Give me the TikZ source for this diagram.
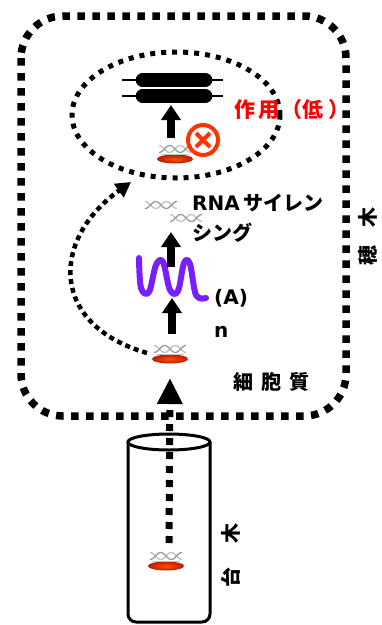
\documentclass[tikz,border=0pt]{standalone}
\usepackage{fontspec}
\setmainfont{Noto Sans CJK JP}
\newfontfamily\latinbold{DejaVu Sans}
\usetikzlibrary{arrows.meta,calc}

\definecolor{xred}{RGB}{255,51,0}
\definecolor{labelred}{RGB}{255,0,0}
\definecolor{mrnaviolet}{RGB}{120,30,255}
\definecolor{discin}{RGB}{255,80,0}
\definecolor{discout}{RGB}{185,28,0}

\tikzset{
  outerdots/.style={line width=7.5pt, dash pattern=on 7.5pt off 7.5pt},
  ringdots/.style={line width=5pt, dash pattern=on 5pt off 6pt},
  pathdots/.style={line width=4.5pt, dash pattern=on 5pt off 4pt},
  feeddots/.style={line width=7pt, dash pattern=on 7pt off 7pt},
  blockarrow/.style={line width=8pt, -{Triangle[width=19pt,length=15pt]}},
  lbl/.style={inner sep=0pt, font=\bfseries\fontsize{20}{30}\selectfont},
  helix/.pic={
    \draw[gray!45, line width=1.5pt] plot[domain=-16:16, samples=41, smooth] (\x,{-3.5*sin(17*\x)});
    \draw[gray!80, line width=1.3pt] plot[domain=-16:16, samples=41, smooth] (\x,{3.5*sin(17*\x)});
  },
  dnadisc/.pic={
    \pic at (0,-10) {helix};
    \shade[inner color=discin, outer color=discout] (0,0) ellipse [x radius=18pt, y radius=4.5pt];
    \draw[gray!45, line width=0.5pt] (-14,-4.5) -- (14,-4.5);
  },
}

\begin{document}
\begin{tikzpicture}[x=1pt, y=-1pt]
\useasboundingbox (0,0) rectangle (382,625);
\fill[white] (0,0) rectangle (382,625);

% cytoplasm compartment
\draw[outerdots, rounded corners=42pt] (21,16) rectangle (346,416);

% region where the siRNA acts
\draw[ringdots] (176,115) ellipse [x radius=104pt, y radius=63pt];

% rootstock stem
\draw[line width=3pt, rounded corners=8pt] (128,442) -- (128,622) -- (210,622) -- (210,442);
\draw[line width=3pt] (169,442) ellipse [x radius=41pt, y radius=8pt];

% DNA/disc glyphs
\coordinate (dnaTop) at (175,159);
\coordinate (dnaCyto) at (170,359);
\coordinate (dnaStock) at (166,566);
\pic at (dnaTop) {dnadisc};
\pic at (dnaCyto) {dnadisc};
\pic at (dnaStock) {dnadisc};

% siRNA duplexes
\coordinate (sirnaA) at (161,205);
\coordinate (sirnaB) at (186,218);
\pic at (sirnaA) {helix};
\pic at (sirnaB) {helix};

% target molecule (two bars)
\coordinate (bars) at (172,88);
\foreach \yy in {80,96} {
  \draw[line width=2.5pt] (122,\yy) -- (223,\yy);
  \draw[line width=13.5pt, line cap=round] (142.5,\yy) -- (205.5,\yy);
}

% poly-A transcript
\coordinate (mrna) at (172,278);
\draw[mrnaviolet, line width=6pt, line cap=round, line join=round]
  plot[smooth, tension=0.6] coordinates {(139,258) (141,288) (149,292) (156,265) (163,262) (170,290) (178,291) (184,263) (190,264) (196,295) (206,298)};

% inhibition mark
\coordinate (block) at (203,140);
\draw[xred, line width=4pt] (block) circle [radius=15pt];
\draw[xred, line width=4pt] ($(block)+(-7,-7)$) -- ($(block)+(7,7)$);
\draw[xred, line width=4pt] ($(block)+(7,-7)$) -- ($(block)+(-7,7)$);

% solid arrows
\coordinate (a1s) at (171,138); \coordinate (a1e) at (171,105);
\coordinate (a2s) at (171,267); \coordinate (a2e) at (171,232);
\coordinate (a3s) at (172,334); \coordinate (a3e) at (172,298);
\draw[blockarrow] (a1s) -- (a1e);
\draw[blockarrow] (a2s) -- (a2e);
\draw[blockarrow] (a3s) -- (a3e);

% transport from rootstock into scion
\coordinate (feedStart) at (169,543);
\coordinate (feedTip) at (170,378);
\draw[feeddots, -{Triangle[width=24pt,length=26pt]}] (feedStart) -- (feedTip);

% mobile signal looping back to the target
\coordinate (loopStart) at (147,353);
\coordinate (loopTip) at (131,182);
\draw[pathdots, -{Triangle[width=16pt,length=15pt]}] (loopStart) .. controls (50,325) and (50,240) .. (loopTip);

% labels
\node[lbl, text=labelred, anchor=west, font=\bfseries\fontsize{21}{21}\selectfont] (effect) at (234,110) {作\kern3pt用\kern2pt（低\kern5pt）};
\node[lbl, anchor=west, align=left] (silencing) at (192,218) {{\latinbold\bfseries RNA}\kern4pt サイレン\\シング};
\node[lbl, anchor=west, font=\latinbold\bfseries\fontsize{20}{20}\selectfont] (polyA) at (214,298) {(A)};
\node[lbl, anchor=west, font=\latinbold\bfseries\fontsize{20}{20}\selectfont] (polyN) at (214,332) {n};
\node[lbl, font=\bfseries\fontsize{20}{20}\selectfont] (cyto) at (271,382) {細\kern8pt胞\kern8pt質};
\node[lbl, rotate=90, font=\bfseries\fontsize{20}{20}\selectfont] (scion) at (368,236) {穂\kern18pt木};
\node[lbl, rotate=90, font=\bfseries\fontsize{20}{20}\selectfont] (stock) at (231,555) {台\kern24pt木};
\end{tikzpicture}
\end{document}
